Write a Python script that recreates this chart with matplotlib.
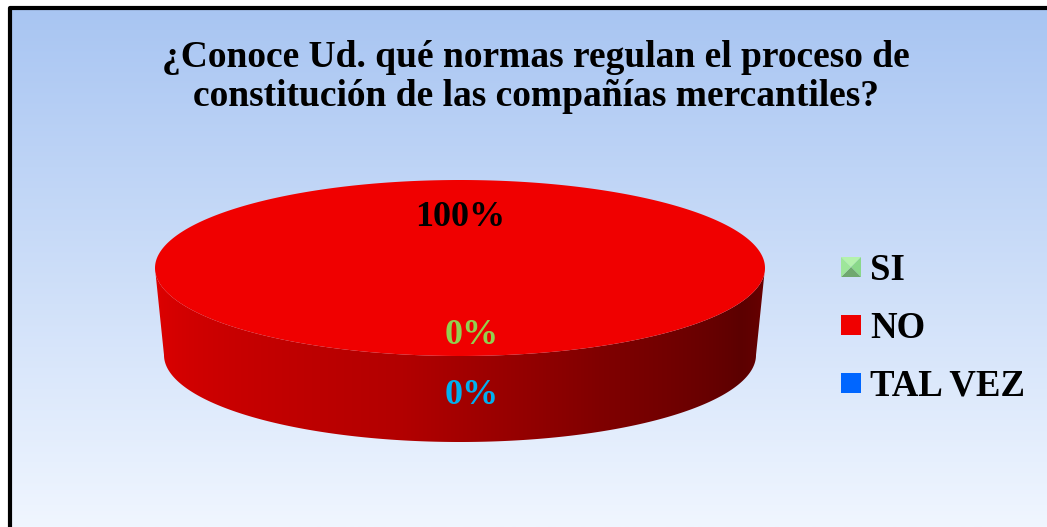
import numpy as np
import matplotlib
matplotlib.use("Agg")
import matplotlib.pyplot as plt
from matplotlib.patches import Polygon, Rectangle

# datos de la encuesta
categorias = ["SI", "NO", "TAL VEZ"]
valores = [0, 100, 0]
colores = ["#99ee99", "#f00000", "#0066ff"]
colores_etiqueta = ["#92d050", "#000000", "#00b0f0"]
titulo = "¿Conoce Ud. qué normas regulan el proceso de\nconstitución de las compañías mercantiles?"

W, H = 1047, 527
fig = plt.figure(figsize=(W / 100, H / 100), dpi=100)
ax = fig.add_axes([0, 0, 1, 1])
ax.set_xlim(0, W)
ax.set_ylim(H, 0)
ax.axis("off")

# fondo degradado
arriba = np.array([168, 197, 242]) / 255
abajo = np.array([240, 246, 255]) / 255
t = np.linspace(0, 1, 256)[:, None]
grad = (arriba * (1 - t) + abajo * t)[:, None, :]
ax.imshow(grad, extent=(10, W, H, 8), aspect="auto", zorder=0)
ax.plot([9.5, 9.5, W], [H, 8, 8], color="black", lw=3, zorder=5,
        solid_capstyle="butt")

fuente = "Liberation Serif"
ax.text(536, 77, titulo, ha="center", va="center", fontsize=27,
        fontweight="bold", family=fuente, linespacing=1.12)

# geometria del pastel 3D
cx, cy = 460, 268
a, b = 305, 88
prof = 87
a2, b2 = 296, 87


def punto(ang, cxx, cyy, aa, bb):
    r = np.radians(ang)
    return cxx + aa * np.cos(r), cyy - bb * np.sin(r)


def sombra(ang):
    ang = ang % 360
    rojo = np.interp(ang, [180, 259, 297, 337, 360], [225, 178, 128, 92, 108])
    return rojo / 255


total = sum(valores)
inicio = 270.0
angulos = []
for v in valores:
    barrido = 360.0 * v / total
    angulos.append((inicio - barrido, inicio))
    inicio -= barrido

# costado frontal (degradado recortado), solo la porcion que se ve
for (t1, t2), v, c in zip(angulos, valores, colores):
    if v == 0:
        continue
    ini, fin = (180, 360) if t2 - t1 >= 360 else (max(t1 % 360, 180), min(t2 % 360 or 360, 360))
    if fin <= ini:
        continue
    frente = np.linspace(ini, fin, 400)
    arriba_pts = [punto(x, cx, cy, a, b) for x in frente]
    abajo_pts = [punto(x, cx, cy + prof, a2, b2) for x in frente[::-1]]
    forma = Polygon(arriba_pts + abajo_pts, closed=True, fc="none", ec="none")
    ax.add_patch(forma)
    xs = np.linspace(cx - a, cx + a, 600)
    ang_x = 360 - np.degrees(np.arccos(np.clip((xs - cx) / a, -1, 1)))
    base = np.array(matplotlib.colors.to_rgb(c))
    fila = np.clip(base[None, :] * (sombra(ang_x) / 0.94)[:, None], 0, 1)
    im = ax.imshow(fila[None, :, :], extent=(cx - a, cx + a, cy + prof + b2 + 2, cy - 2),
                   aspect="auto", zorder=2, interpolation="bilinear")
    im.set_clip_path(forma)

# caras superiores
for (t1, t2), v, c in zip(angulos, valores, colores):
    if v == 0:
        continue
    angs = np.linspace(t1, t2, 400)
    pts = [punto(x, cx, cy, a, b) for x in angs]
    if v < total:
        pts = [(cx, cy)] + pts
    ax.add_patch(Polygon(pts, closed=True, fc=c, ec="none", zorder=3))

# etiquetas de datos
desplaza = [(12, 68), (0, -50), (12, 127)]
for (t1, t2), v, col, (dx, dy) in zip(angulos, valores, colores_etiqueta, desplaza):
    ax.text(cx + dx, cy + dy, f"{v / total:.0%}", ha="center", va="center",
            fontsize=26, fontweight="bold", family=fuente, color=col, zorder=6)

# leyenda
ys = [267, 325, 383]
for cat, c, y in zip(categorias, colores, ys):
    x0, lado = 841, 20
    if cat == "SI":
        m = (x0 + lado / 2, y)
        esq = [(x0, y - lado / 2), (x0 + lado, y - lado / 2),
               (x0 + lado, y + lado / 2), (x0, y + lado / 2)]
        tonos = ["#b4f2ac", "#8ad88a", "#6fa86f", "#9ee69a"]
        for k in range(4):
            ax.add_patch(Polygon([esq[k], esq[(k + 1) % 4], m], closed=True,
                                 fc=tonos[k], ec="none", zorder=4))
    else:
        ax.add_patch(Rectangle((x0, y - lado / 2), lado, lado, fc=c, ec="none",
                               zorder=4))
    ax.text(870, y + 3, cat, ha="left", va="center", fontsize=26.5,
            fontweight="bold", family=fuente, zorder=4)

fig.savefig("out.png", dpi=100)
